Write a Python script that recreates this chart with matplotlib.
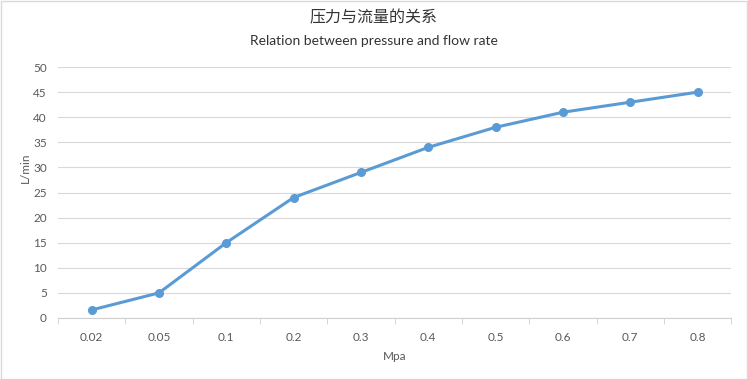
import matplotlib
matplotlib.use("Agg")
import matplotlib.pyplot as plt
import numpy as np

plt.rcParams['font.family'] = ['Lato', 'Noto Sans CJK SC', 'DejaVu Sans']

pressure = ["0.02", "0.05", "0.1", "0.2", "0.3", "0.4", "0.5", "0.6", "0.7", "0.8"]
flow = [1.6, 5, 15, 24, 29, 34, 38, 41, 43, 45]
yticks = [0, 5, 10, 15, 20, 25, 30, 35, 40, 45, 50]

grey = "#595959"
blue = "#5B9BD5"

fig = plt.figure(figsize=(7.48, 3.79), dpi=100)
ax = fig.add_axes([0.0775, 0.161, 0.9, 0.662])

x = np.arange(len(pressure))
ax.plot(x, flow, color=blue, lw=2.2, marker="o", ms=5.5, zorder=3)

ax.set_xlim(-0.5, len(pressure) - 0.5)
ax.set_ylim(0, 50)
ax.set_yticks(yticks)
ax.set_xticks(x)
ax.set_xticklabels(pressure)
ax.set_xticks(np.arange(-0.5, len(pressure)), minor=True)
ax.tick_params(axis="x", which="major", length=0, pad=10, labelsize=8.5, labelcolor=grey)
ax.tick_params(axis="x", which="minor", length=4, color="#d0d0d0", direction="out")
ax.tick_params(axis="y", length=0, pad=8, labelsize=8.5, labelcolor=grey)

ax.grid(axis="y", color="#d9d9d9", lw=0.8)
ax.set_axisbelow(True)
for s in ["top", "right", "left"]:
    ax.spines[s].set_visible(False)
ax.spines["bottom"].set_color("#d0d0d0")

ax.set_xlabel("Mpa", fontsize=8.5, color=grey, labelpad=6)
ax.set_ylabel("L/min", fontsize=8.5, color=grey)
ax.yaxis.set_label_coords(-0.04, 0.6)

fig.text(0.5, 0.953, "压力与流量的关系", ha="center", va="center", fontsize=11.5,
         family=['Noto Sans CJK SC', 'DejaVu Sans'], color="#333333")
fig.text(0.5, 0.892, "Relation between pressure and flow rate", ha="center", va="center",
         fontsize=10, color="#333333")

fig.patches.append(plt.Rectangle((0.001, 0.001), 0.997, 0.996, transform=fig.transFigure,
                                 fill=False, edgecolor="#d9d9d9", lw=1))

fig.savefig("out.png", dpi=100)
